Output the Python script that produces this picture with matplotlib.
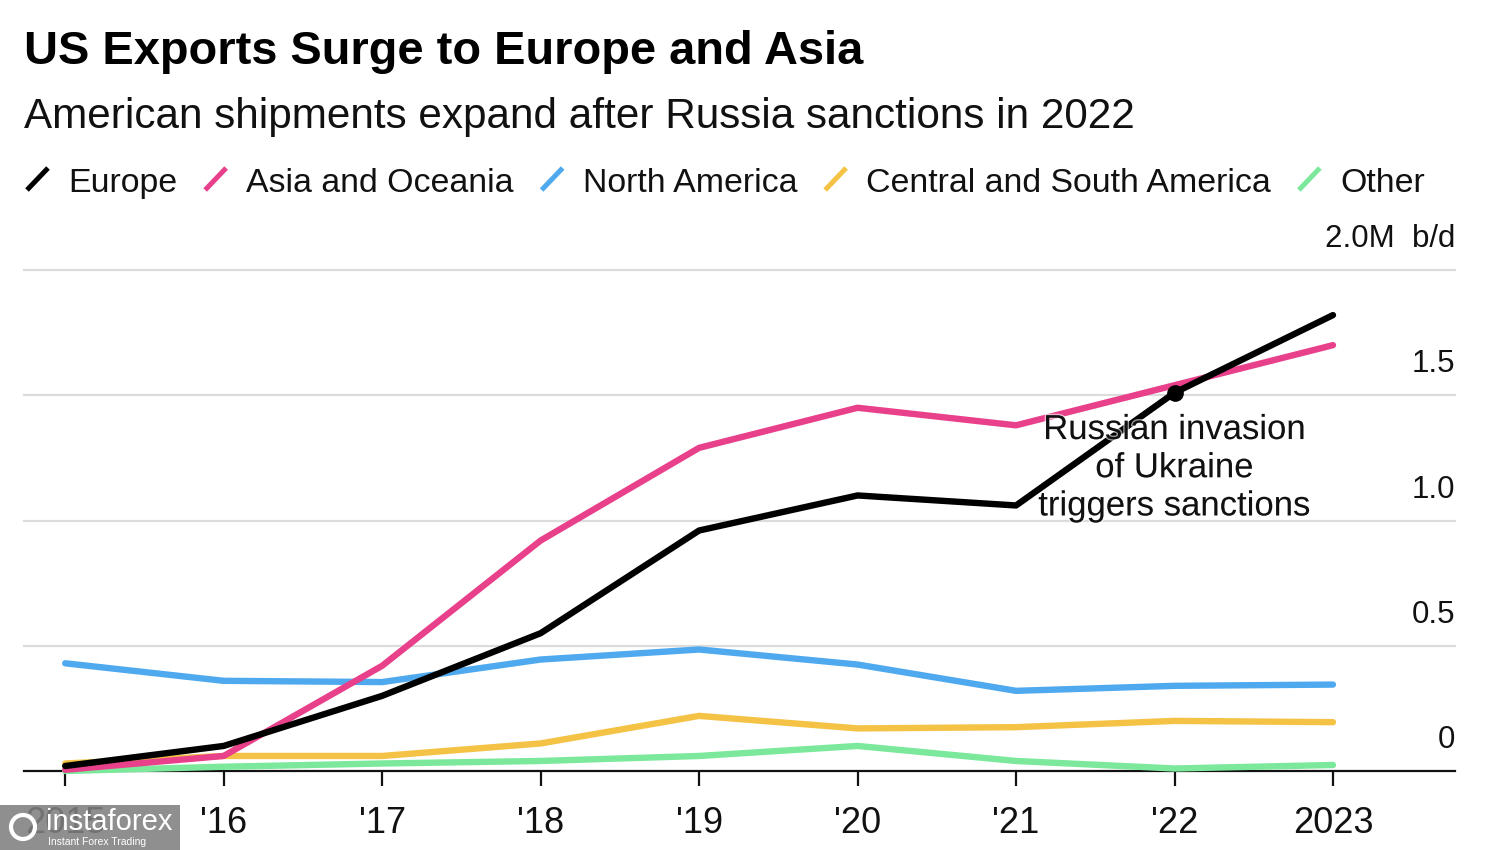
import matplotlib
matplotlib.use('Agg')
import matplotlib.pyplot as plt
import matplotlib.patheffects as pe
from matplotlib.lines import Line2D
from matplotlib.patches import Rectangle, Ellipse

years = [2015, 2016, 2017, 2018, 2019, 2020, 2021, 2022, 2023]
year_labels = ["2015", "'16", "'17", "'18", "'19", "'20", "'21", "'22", "2023"]

europe = [0.02, 0.10, 0.30, 0.55, 0.96, 1.10, 1.06, 1.51, 1.82]
asia_oceania = [0.005, 0.06, 0.42, 0.92, 1.29, 1.45, 1.38, 1.54, 1.70]
north_america = [0.43, 0.36, 0.355, 0.445, 0.485, 0.425, 0.32, 0.34, 0.345]
central_south = [0.03, 0.06, 0.06, 0.11, 0.22, 0.17, 0.175, 0.20, 0.195]
other = [0.0, 0.017, 0.03, 0.04, 0.06, 0.10, 0.04, 0.01, 0.024]

series_names = ["Europe", "Asia and Oceania", "North America", "Central and South America", "Other"]
series_values = [europe, asia_oceania, north_america, central_south, other]
series_colors = ["#000000", "#e8408a", "#4ea9ee", "#f4c345", "#7be89b"]

y_ticks = [0, 0.5, 1.0, 1.5, 2.0]
y_labels = ["0", "0.5", "1.0", "1.5", "2.0M  b/d"]

event_idx = 7
event_text = "Russian invasion\nof Ukraine\ntriggers sanctions"

plt.rcParams['font.family'] = ['Liberation Sans', 'DejaVu Sans']

W, H = 1500, 850
fig = plt.figure(figsize=(15, 8.5), dpi=100)

# axes box in pixels: x 24..1455, y(0)=771, y(2.0)=270
ax = fig.add_axes([24 / W, (H - 771) / H, (1455 - 24) / W, (771 - 270) / H])
ax.set_xlim(2014.74, 2023.77)
ax.set_ylim(0, 2.0)

for s in ['top', 'right', 'left']:
    ax.spines[s].set_visible(False)
ax.spines['bottom'].set_color('#111111')
ax.spines['bottom'].set_linewidth(1.6)
ax.spines['bottom'].set_zorder(1)

for v in y_ticks[1:]:
    ax.axhline(v, color='#dcdcdc', lw=1.6, zorder=0, clip_on=False)

ax.set_yticks([])
ax.set_xticks(years)
ax.set_xticklabels(year_labels)
ax.tick_params(axis='x', direction='out', length=11, width=1.6, color='#111111',
               pad=14, labelsize=26, labelcolor='#111111')

# lines, first series on top
for i in reversed(range(len(series_values))):
    ax.plot(years, series_values[i], color=series_colors[i], lw=4.6,
            solid_capstyle='round', solid_joinstyle='round', zorder=3 + len(series_values) - i,
            clip_on=False)

# y labels sit above their gridline on the right
for v, lab in zip(y_ticks, y_labels):
    ax.annotate(lab, xy=(1.0, v), xycoords=('axes fraction', 'data'),
                xytext=(0, 16.5), textcoords='offset points',
                ha='right', va='baseline', fontsize=22.5, color='#111111')

# event marker and note
ax.plot(years[event_idx], europe[event_idx], 'o', color='#000000', ms=11, zorder=10)
ax.annotate(event_text, xy=(years[event_idx], europe[event_idx]),
            xytext=(0, -54), textcoords='offset points',
            ha='center', va='center', fontsize=25, linespacing=1.2, color='#111111', zorder=11,
            path_effects=[pe.withStroke(linewidth=2, foreground='white', alpha=0.6)])

# title and subtitle
fig.text(24 / W, 1 - 64 / H, "US Exports Surge to Europe and Asia",
         fontsize=33.8, fontweight='bold', color='#000000', va='baseline', ha='left')
fig.text(24 / W, 1 - 128 / H, "American shipments expand after Russia sanctions in 2022",
         fontsize=30.4, color='#111111', va='baseline', ha='left')

# legend row with slanted strokes
fig.canvas.draw()
renderer = fig.canvas.get_renderer()
x = 27
base = 192
for name, col in zip(series_names, series_colors):
    fig.add_artist(Line2D([x / W, (x + 21) / W], [1 - 190 / H, 1 - 168 / H],
                          transform=fig.transFigure, color=col, lw=3.6, solid_capstyle='butt'))
    t = fig.text((x + 41) / W, 1 - base / H, name, fontsize=24.4, color='#111111',
                 va='baseline', ha='left')
    bb = t.get_window_extent(renderer)
    x = bb.x1 + 28

# watermark box in the lower left corner
fig.add_artist(Rectangle((0, 0), 180 / W, 45 / H, transform=fig.transFigure,
                         facecolor='#808080', alpha=0.88, edgecolor='none', zorder=20))
fig.add_artist(Ellipse((23 / W, 1 - 827 / H), 24 / W, 24 / H, transform=fig.transFigure,
                       facecolor='none', edgecolor='white', lw=3, zorder=21))
fig.text(46 / W, 1 - 830 / H, "instaforex", fontsize=21, color='white', zorder=21,
         va='baseline', ha='left')
fig.text(48 / W, 1 - 845 / H, "Instant Forex Trading", fontsize=7.5, color='white', zorder=21,
         va='baseline', ha='left')

fig.savefig('out.png', dpi=100)
